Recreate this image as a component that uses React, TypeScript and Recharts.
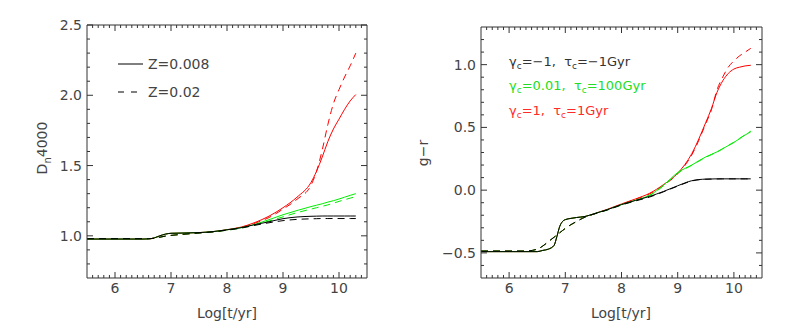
import React from 'react';
import { LineChart, Line, XAxis, YAxis } from 'recharts';

// ---------- Left panel: Dn4000 ----------
const tLeft = [5.5, 6.0, 6.5, 6.6, 6.7, 6.8, 6.9, 7.0, 7.25, 7.5, 7.75, 8.0, 8.25, 8.5, 8.75, 9.0, 9.25, 9.5, 9.6, 9.7, 9.8, 9.9, 10.0, 10.1, 10.2, 10.3];
const dnBlackSolid = [0.977, 0.977, 0.977, 0.978, 0.985, 1.0, 1.012, 1.018, 1.02, 1.023, 1.03, 1.043, 1.058, 1.08, 1.1, 1.122, 1.134, 1.139, 1.14, 1.141, 1.141, 1.141, 1.141, 1.141, 1.141, 1.141];
const dnBlackDash = [0.98, 0.98, 0.98, 0.98, 0.982, 0.99, 0.998, 1.003, 1.012, 1.02, 1.028, 1.04, 1.055, 1.075, 1.093, 1.108, 1.117, 1.121, 1.122, 1.123, 1.123, 1.123, 1.123, 1.123, 1.123, 1.123];
const dnGreenSolid = [0.977, 0.977, 0.977, 0.978, 0.985, 1.0, 1.012, 1.018, 1.02, 1.023, 1.03, 1.043, 1.058, 1.082, 1.115, 1.15, 1.18, 1.208, 1.218, 1.228, 1.24, 1.25, 1.262, 1.275, 1.288, 1.3];
const dnGreenDash = [0.98, 0.98, 0.98, 0.98, 0.982, 0.99, 0.998, 1.003, 1.012, 1.02, 1.028, 1.04, 1.055, 1.077, 1.105, 1.135, 1.165, 1.19, 1.2, 1.21, 1.22, 1.232, 1.245, 1.257, 1.268, 1.28];
const dnRedSolid = [0.977, 0.977, 0.977, 0.978, 0.985, 1.0, 1.012, 1.018, 1.02, 1.023, 1.03, 1.044, 1.062, 1.095, 1.14, 1.2, 1.275, 1.38, 1.46, 1.56, 1.67, 1.76, 1.83, 1.9, 1.96, 2.005];
const dnRedDash = [0.98, 0.98, 0.98, 0.98, 0.982, 0.99, 0.998, 1.003, 1.012, 1.02, 1.028, 1.042, 1.06, 1.09, 1.13, 1.19, 1.26, 1.36, 1.46, 1.61, 1.79, 1.94, 2.04, 2.13, 2.21, 2.3];
const leftYTicks = [1.0, 1.5, 2.0, 2.5];

// ---------- Right panel: g-r ----------
const tRight = [5.5, 6.0, 6.3, 6.5, 6.6, 6.7, 6.8, 6.85, 6.9, 6.95, 7.0, 7.1, 7.2, 7.35, 7.5, 7.75, 8.0, 8.25, 8.5, 8.75, 9.0, 9.25, 9.5, 9.6, 9.7, 9.8, 9.9, 10.0, 10.1, 10.2, 10.3];
const grBlackSolid = [-0.49, -0.49, -0.49, -0.49, -0.48, -0.47, -0.44, -0.37, -0.29, -0.25, -0.235, -0.225, -0.218, -0.21, -0.19, -0.155, -0.115, -0.082, -0.05, -0.01, 0.035, 0.075, 0.088, 0.089, 0.09, 0.09, 0.09, 0.09, 0.09, 0.09, 0.09];
const grBlackDash = [-0.485, -0.485, -0.485, -0.47, -0.445, -0.41, -0.375, -0.358, -0.34, -0.322, -0.305, -0.275, -0.25, -0.215, -0.192, -0.158, -0.118, -0.086, -0.055, -0.013, 0.032, 0.073, 0.087, 0.088, 0.089, 0.09, 0.09, 0.09, 0.09, 0.09, 0.09];
const grGreenSolid = [-0.49, -0.49, -0.49, -0.49, -0.48, -0.47, -0.44, -0.37, -0.29, -0.25, -0.235, -0.225, -0.218, -0.21, -0.19, -0.155, -0.115, -0.08, -0.04, 0.04, 0.14, 0.2, 0.265, 0.285, 0.305, 0.33, 0.355, 0.38, 0.41, 0.44, 0.465];
const grGreenDash = [-0.485, -0.485, -0.485, -0.47, -0.445, -0.41, -0.375, -0.358, -0.34, -0.322, -0.305, -0.275, -0.25, -0.215, -0.192, -0.158, -0.118, -0.083, -0.043, 0.036, 0.136, 0.198, 0.262, 0.283, 0.304, 0.33, 0.356, 0.382, 0.412, 0.442, 0.47];
const grRedSolid = [-0.49, -0.49, -0.49, -0.49, -0.48, -0.47, -0.44, -0.37, -0.29, -0.25, -0.235, -0.225, -0.218, -0.21, -0.19, -0.152, -0.11, -0.07, -0.025, 0.045, 0.135, 0.29, 0.54, 0.65, 0.78, 0.87, 0.93, 0.965, 0.98, 0.99, 0.995];
const grRedDash = [-0.485, -0.485, -0.485, -0.47, -0.445, -0.41, -0.375, -0.358, -0.34, -0.322, -0.305, -0.275, -0.25, -0.215, -0.192, -0.155, -0.113, -0.073, -0.03, 0.04, 0.13, 0.28, 0.53, 0.64, 0.8, 0.9, 0.98, 1.03, 1.07, 1.1, 1.13];
const rightYTicks = [-0.5, 0.0, 0.5, 1.0];

const xMajorTicks = [6, 7, 8, 9, 10];

const steps = (a: number, b: number, s: number, skip: number[]) => {
  const out: number[] = [];
  for (let i = 0; a + i * s <= b + 1e-9; i++) {
    const v = +(a + i * s).toFixed(2);
    if (!skip.some((k) => Math.abs(k - v) < 1e-6)) out.push(v);
  }
  return out;
};
const xMinorTicks = steps(5.6, 10.4, 0.1, xMajorTicks);
const leftYMinor = steps(0.8, 2.4, 0.1, leftYTicks);
const rightYMinor = steps(-0.6, 1.2, 0.1, rightYTicks);

const leftData = tLeft.map((t, i) => ({
  t, bs: dnBlackSolid[i], bd: dnBlackDash[i], gs: dnGreenSolid[i], gd: dnGreenDash[i], rs: dnRedSolid[i], rd: dnRedDash[i],
}));
const rightData = tRight.map((t, i) => ({
  t, bs: grBlackSolid[i], bd: grBlackDash[i], gs: grGreenSolid[i], gd: grGreenDash[i], rs: grRedSolid[i], rd: grRedDash[i],
}));

const FONT = 'DejaVu Sans';
const TXT = '#444';
const FRAME = '#333';
const tickStyle = { fill: TXT, fontSize: 14, fontFamily: FONT };
const fmt = (v: number) => (v < 0 ? '\u2212' + Math.abs(v).toFixed(1) : v.toFixed(1));

const RED = '#ff0000';
const GREEN = '#00ee00';
const BLACK = '#000000';
const DASH = '7 5';
const S = 0.01; // near-zero axis size (0 disables rendering)
const NoLabel = () => <g />;

function Panel(props: {
  data: any[];
  width: number;
  height: number;
  margin: { top: number; right: number; bottom: number; left: number };
  yDomain: [number, number];
  yTicks: number[];
  yMinor: number[];
}) {
  const { data, width, height, margin, yDomain, yTicks, yMinor } = props;
  const xd: [number, number] = [5.5, 10.5];
  const tl = { stroke: FRAME, strokeWidth: 1 };
  const xCommon = { dataKey: 't', type: 'number' as const, domain: xd, allowDataOverflow: true, interval: 0 as const, height: S };
  const yCommon = { dataKey: 'bs', type: 'number' as const, domain: yDomain, allowDataOverflow: true, interval: 0 as const, width: S };
  return (
    <LineChart width={width} height={height} data={data} margin={margin}>
      {/* label axes */}
      <XAxis xAxisId="x" {...xCommon} ticks={xMajorTicks}
        tickLine={false} axisLine={false} tickSize={0} tickMargin={5} tick={tickStyle} />
      <YAxis yAxisId="y" {...yCommon} ticks={yTicks}
        tickLine={false} axisLine={false} tickSize={0} tickMargin={5} tick={tickStyle} tickFormatter={fmt} />
      {/* frame + inward ticks */}
      <XAxis xAxisId="xb" {...xCommon} ticks={xMajorTicks} mirror tick={NoLabel} tickSize={6} tickLine={tl} axisLine={tl} />
      <XAxis xAxisId="xbm" {...xCommon} ticks={xMinorTicks} mirror tick={NoLabel} tickSize={3} tickLine={tl} axisLine={false} />
      <XAxis xAxisId="xt" {...xCommon} orientation="top" ticks={xMajorTicks} mirror tick={NoLabel} tickSize={6} tickLine={tl} axisLine={tl} />
      <XAxis xAxisId="xtm" {...xCommon} orientation="top" ticks={xMinorTicks} mirror tick={NoLabel} tickSize={3} tickLine={tl} axisLine={false} />
      <YAxis yAxisId="yl" {...yCommon} ticks={yTicks} mirror tick={NoLabel} tickSize={6} tickLine={tl} axisLine={tl} />
      <YAxis yAxisId="ylm" {...yCommon} ticks={yMinor} mirror tick={NoLabel} tickSize={3} tickLine={tl} axisLine={false} />
      <YAxis yAxisId="yr" {...yCommon} orientation="right" ticks={yTicks} mirror tick={NoLabel} tickSize={6} tickLine={tl} axisLine={tl} />
      <YAxis yAxisId="yrm" {...yCommon} orientation="right" ticks={yMinor} mirror tick={NoLabel} tickSize={3} tickLine={tl} axisLine={false} />

      <Line xAxisId="x" yAxisId="y" dataKey="rd" type="monotone" stroke={RED} strokeWidth={1} strokeDasharray={DASH} dot={false} isAnimationActive={false} />
      <Line xAxisId="x" yAxisId="y" dataKey="rs" type="monotone" stroke={RED} strokeWidth={1} dot={false} isAnimationActive={false} />
      <Line xAxisId="x" yAxisId="y" dataKey="gd" type="monotone" stroke={GREEN} strokeWidth={1} strokeDasharray={DASH} dot={false} isAnimationActive={false} />
      <Line xAxisId="x" yAxisId="y" dataKey="gs" type="monotone" stroke={GREEN} strokeWidth={1} dot={false} isAnimationActive={false} />
      <Line xAxisId="x" yAxisId="y" dataKey="bd" type="monotone" stroke={BLACK} strokeWidth={1} strokeDasharray={DASH} dot={false} isAnimationActive={false} />
      <Line xAxisId="x" yAxisId="y" dataKey="bs" type="monotone" stroke={BLACK} strokeWidth={1} dot={false} isAnimationActive={false} />
    </LineChart>
  );
}

export default function App() {
  return (
    <div style={{ position: 'absolute', left: 0, top: 0, width: 786, height: 334, background: '#fff' }}>
      <div style={{ position: 'absolute', left: 0, top: 0 }}>
        <Panel data={leftData} width={400} height={334} margin={{ top: 25, right: 33, bottom: 56, left: 87 }}
          yDomain={[0.7, 2.5]} yTicks={leftYTicks} yMinor={leftYMinor} />
      </div>
      <div style={{ position: 'absolute', left: 400, top: 0 }}>
        <Panel data={rightData} width={386} height={334} margin={{ top: 27, right: 24, bottom: 56, left: 81 }}
          yDomain={[-0.7, 1.3]} yTicks={rightYTicks} yMinor={rightYMinor} />
      </div>
      <svg width={786} height={334} style={{ position: 'absolute', left: 0, top: 0, pointerEvents: 'none' }}
        fontFamily={FONT}>
        {/* left axis titles */}
        <text x={227} y={318} textAnchor="middle" fontSize={14} fill={TXT}>Log[t/yr]</text>
        <text transform="rotate(-90 47 148)" x={47} y={148} textAnchor="middle" fontSize={14} fill={TXT}>
          D<tspan fontSize={10} dy={4}>n</tspan><tspan dy={-4}>4000</tspan>
        </text>
        {/* left legend */}
        <line x1={118} y1={64} x2={143} y2={64} stroke={BLACK} strokeWidth={1} />
        <text x={148} y={69} fontSize={14} fill={TXT}>Z=0.008</text>
        <line x1={118} y1={92} x2={143} y2={92} stroke={BLACK} strokeWidth={1} strokeDasharray="6 7" />
        <text x={148} y={97} fontSize={14} fill={TXT}>Z=0.02</text>

        {/* right axis titles */}
        <text x={621} y={318} textAnchor="middle" fontSize={14} fill={TXT}>Log[t/yr]</text>
        <text transform="rotate(-90 428 153)" x={428} y={153} textAnchor="middle" fontSize={14} fill={TXT}>g{'\u2212'}r</text>
        {/* right legend */}
        <text x={509} y={66} fontSize={13} fill="#333" style={{ whiteSpace: 'pre' }}>
          γ<tspan fontSize={9} dy={3}>c</tspan><tspan dy={-3}>={'\u2212'}1,  τ</tspan><tspan fontSize={9} dy={3}>c</tspan><tspan dy={-3}>={'\u2212'}1Gyr</tspan>
        </text>
        <text x={509} y={90} fontSize={13} fill="#22dd22" style={{ whiteSpace: 'pre' }}>
          γ<tspan fontSize={9} dy={3}>c</tspan><tspan dy={-3}>=0.01,  τ</tspan><tspan fontSize={9} dy={3}>c</tspan><tspan dy={-3}>=100Gyr</tspan>
        </text>
        <text x={509} y={115} fontSize={13} fill="#ff2a2a" style={{ whiteSpace: 'pre' }}>
          γ<tspan fontSize={9} dy={3}>c</tspan><tspan dy={-3}>=1,  τ</tspan><tspan fontSize={9} dy={3}>c</tspan><tspan dy={-3}>=1Gyr</tspan>
        </text>
      </svg>
    </div>
  );
}
